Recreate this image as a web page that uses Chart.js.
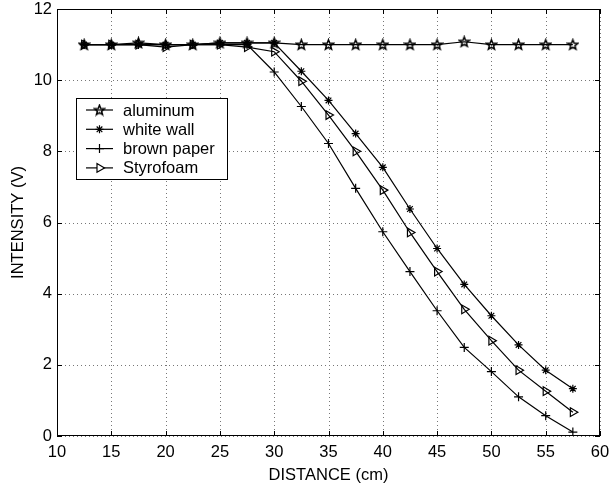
<!DOCTYPE html>
<html>
<head>
<meta charset="utf-8">
<script src="https://cdn.jsdelivr.net/npm/chart.js@4/dist/chart.umd.min.js"></script>
<style>
    body { margin: 0; background: #fff; }
    canvas { display: block; }
</style>
</head>
<body>
<canvas id="GraficoIntensidade" width="609" height="488"></canvas>
<script>
/*Dados do gráfico*/
var distancias = [12.5, 15, 17.5, 20, 22.5, 25, 27.5, 30, 32.5, 35, 37.5, 40, 42.5, 45, 47.5, 50, 52.5, 55, 57.5];
var aluminio = [11.0, 11.0, 11.05, 11.0, 11.0, 11.05, 11.05, 11.05, 11.0, 11.0, 11.0, 11.0, 11.0, 11.0, 11.08, 11.0, 11.0, 11.0, 11.0];
var paredeBranca = [11.0, 11.0, 11.0, 11.0, 11.0, 11.05, 11.05, 11.05, 10.25, 9.43, 8.5, 7.55, 6.38, 5.27, 4.26, 3.38, 2.56, 1.85, 1.33];
var papelPardo = [11.0, 11.0, 11.0, 11.0, 11.0, 11.0, 11.0, 10.23, 9.26, 8.22, 6.96, 5.74, 4.62, 3.52, 2.49, 1.81, 1.10, 0.57, 0.11];
var isopor = [11.0, 11.0, 11.0, 10.93, 11.0, 11.0, 10.93, 10.8, 9.97, 9.02, 8.0, 6.91, 5.72, 4.62, 3.56, 2.68, 1.85, 1.26, 0.67];
var nomesSeries = ["aluminum", "white wall", "brown paper", "Styrofoam"];
var ticksX = [10, 15, 20, 25, 30, 35, 40, 45, 50, 55, 60];
var ticksY = [0, 2, 4, 6, 8, 10, 12];

var fonte = { family: "'Liberation Sans', Arial, Helvetica, sans-serif", size: 16.5 };

/*Função Criar Estrela (pentagrama)*/
function CriarEstrela() {
    var c = document.createElement("canvas");
    c.width = 13;
    c.height = 13;
    var g = c.getContext("2d");
    var raioExt = 5.2, raioInt = 2.2;
    g.beginPath();
    for (var i = 0; i < 10; i++) {
        var r = (i % 2 === 0) ? raioExt : raioInt;
        var a = -Math.PI / 2 + i * Math.PI / 5;
        var px = 6.5 + Math.cos(a) * r;
        var py = 6.9 + Math.sin(a) * r;
        if (i === 0) g.moveTo(px, py); else g.lineTo(px, py);
    }
    g.closePath();
    g.strokeStyle = "#000";
    g.lineWidth = 1.5;
    g.stroke();
    return c;
}

/*Função Montar Pontos*/
function MontarPontos(valores) {
    var pontos = [];
    var indice = 0;
    while (indice < distancias.length) {
        pontos.push({ x: distancias[indice], y: valores[indice] });
        indice++;
    }
    return pontos;
}

var estrela = CriarEstrela();

function Serie(nome, valores, estilo, raio, rotacao) {
    return {
        label: nome,
        data: MontarPontos(valores),
        borderColor: "#000",
        backgroundColor: "#fff",
        borderWidth: 1.2,
        pointStyle: estilo,
        pointRadius: raio,
        pointRotation: rotacao || 0,
        pointBorderColor: "#000",
        pointBackgroundColor: "rgba(0,0,0,0)",
        pointBorderWidth: 1.2,
        fill: false,
        tension: 0
    };
}

/*Plugin grade pontilhada*/
var grade = {
    id: "grade",
    beforeDatasetsDraw: function (chart) {
        var ctx = chart.ctx;
        var area = chart.chartArea;
        var sx = chart.scales.x;
        var sy = chart.scales.y;
        ctx.save();
        ctx.strokeStyle = "#777";
        ctx.lineWidth = 1;
        ctx.setLineDash([1, 3]);
        ctx.beginPath();
        ticksX.forEach(function (v) {
            var px = Math.round(sx.getPixelForValue(v)) + 0.5;
            ctx.moveTo(px, area.top);
            ctx.lineTo(px, area.bottom);
        });
        ticksY.forEach(function (v) {
            var py = Math.round(sy.getPixelForValue(v)) + 0.5;
            ctx.moveTo(area.left, py);
            ctx.lineTo(area.right, py);
        });
        ctx.stroke();
        ctx.restore();
    }
};

/*Plugin moldura, ticks internos e legenda*/
var moldura = {
    id: "moldura",
    afterDraw: function (chart) {
        var ctx = chart.ctx;
        var area = chart.chartArea;
        var sx = chart.scales.x;
        var sy = chart.scales.y;
        ctx.save();
        ctx.strokeStyle = "#000";
        ctx.lineWidth = 1;
        ctx.strokeRect(area.left + 0.5, area.top + 0.5, area.right - area.left - 1, area.bottom - area.top - 1);

        ctx.beginPath();
        ticksX.forEach(function (v) {
            var px = Math.round(sx.getPixelForValue(v)) + 0.5;
            ctx.moveTo(px, area.bottom);
            ctx.lineTo(px, area.bottom - 5);
            ctx.moveTo(px, area.top);
            ctx.lineTo(px, area.top + 5);
        });
        ticksY.forEach(function (v) {
            var py = Math.round(sy.getPixelForValue(v)) + 0.5;
            ctx.moveTo(area.left, py);
            ctx.lineTo(area.left + 5, py);
            ctx.moveTo(area.right, py);
            ctx.lineTo(area.right - 5, py);
        });
        ctx.stroke();

        /*Legenda*/
        var lx = area.left + 19;
        var ly = area.top + 89;
        var lw = 151;
        var lh = 81;
        ctx.fillStyle = "#fff";
        ctx.fillRect(lx, ly, lw, lh);
        ctx.strokeRect(lx + 0.5, ly + 0.5, lw, lh);
        ctx.font = fonte.size + "px " + fonte.family;
        ctx.textBaseline = "middle";
        chart.data.datasets.forEach(function (ds, i) {
            var yy = ly + 12 + i * 19.3;
            ctx.strokeStyle = "#000";
            ctx.lineWidth = 1.2;
            ctx.beginPath();
            ctx.moveTo(lx + 10, yy);
            ctx.lineTo(lx + 37, yy);
            ctx.stroke();
            ctx.fillStyle = "#fff";
            Chart.helpers.drawPoint(ctx, {
                pointStyle: ds.pointStyle,
                radius: ds.pointRadius,
                rotation: ds.pointRotation,
                borderWidth: 1.2
            }, lx + 23.5, yy);
            ctx.fillStyle = "#000";
            ctx.fillText(ds.label, lx + 47, yy + 1);
        });
        ctx.restore();
    }
};

var ctx = document.getElementById("GraficoIntensidade").getContext("2d");
var grafico = new Chart(ctx, {
    type: "line",
    data: {
        datasets: [
            Serie(nomesSeries[0], aluminio, estrela, 5, 0),
            Serie(nomesSeries[1], paredeBranca, "star", 4, 0),
            Serie(nomesSeries[2], papelPardo, "cross", 4.5, 0),
            Serie(nomesSeries[3], isopor, "triangle", 5, 90)
        ]
    },
    options: {
        responsive: false,
        animation: false,
        layout: { padding: { left: 0, top: 9, right: 9, bottom: 0 } },
        plugins: {
            legend: { display: false },
            tooltip: { enabled: false }
        },
        scales: {
            x: {
                type: "linear",
                min: 10,
                max: 60,
                afterBuildTicks: function (scale) {
                    scale.ticks = ticksX.map(function (v) { return { value: v }; });
                },
                afterFit: function (scale) {
                    scale.height = 52;
                    scale.paddingLeft = 0;
                    scale.paddingRight = 0;
                },
                ticks: { color: "#000", font: fonte, padding: 7, maxRotation: 0 },
                grid: { display: false, drawTicks: false },
                border: { display: false },
                title: {
                    display: true,
                    text: "DISTANCE (cm)",
                    color: "#000",
                    font: fonte,
                    padding: { top: 0, bottom: 3 }
                }
            },
            y: {
                type: "linear",
                min: 0,
                max: 12,
                afterBuildTicks: function (scale) {
                    scale.ticks = ticksY.map(function (v) { return { value: v }; });
                },
                afterFit: function (scale) {
                    scale.width = 57;
                    scale.paddingTop = 0;
                    scale.paddingBottom = 0;
                },
                ticks: { color: "#000", font: fonte, padding: 5 },
                grid: { display: false, drawTicks: false },
                border: { display: false },
                title: {
                    display: true,
                    text: "INTENSITY (V)",
                    color: "#000",
                    font: fonte,
                    padding: { top: 9, bottom: 0 }
                }
            }
        }
    },
    plugins: [grade, moldura]
});
</script>
</body>
</html>
